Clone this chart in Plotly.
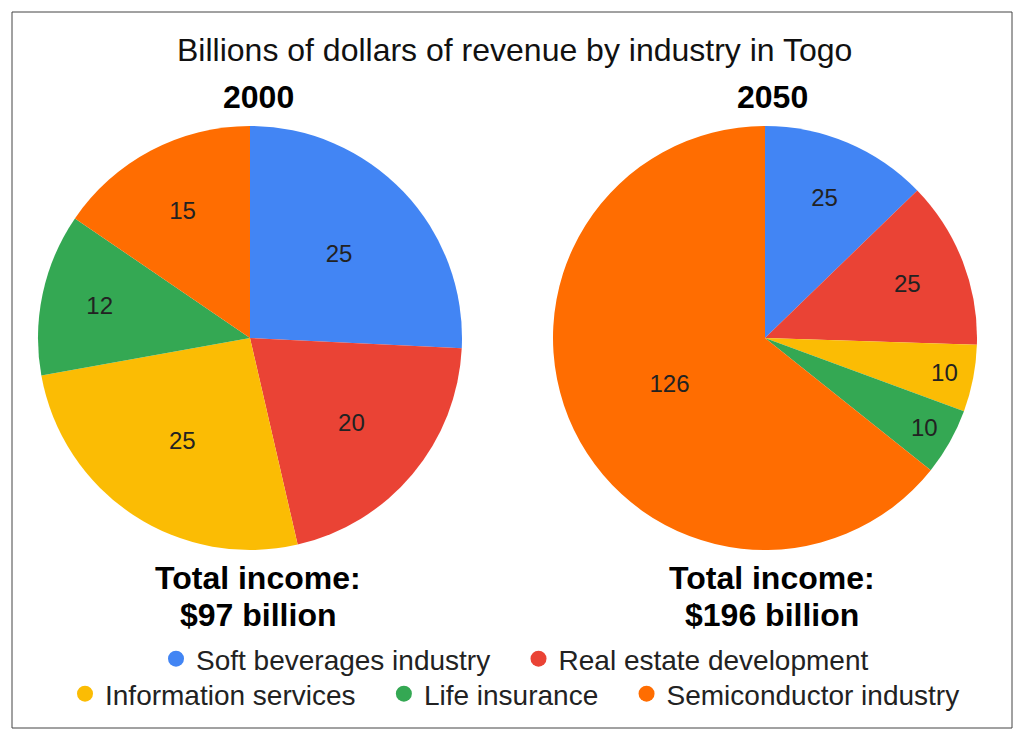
import plotly.graph_objects as go

categories = ["Soft beverages industry", "Real estate development",
              "Information services", "Life insurance", "Semiconductor industry"]
values_2000 = [25, 20, 25, 12, 15]
values_2050 = [25, 25, 10, 10, 126]
colors = ["#4285F4", "#EA4335", "#FBBC04", "#34A853", "#FF6D01"]
title_text = "Billions of dollars of revenue by industry in Togo"
year_labels = ["2000", "2050"]
total_line1 = ["Total income:", "Total income:"]
total_line2 = ["$97 billion", "$196 billion"]

W, H = 1024, 740
FONT = "Liberation Sans, Arial, sans-serif"

fig = go.Figure()

def px_x(v):
    return v / W

def px_y(v):
    return 1 - v / H

pie_domains = [
    dict(x=[px_x(38), px_x(462)], y=[px_y(550), px_y(126)]),
    dict(x=[px_x(553), px_x(977)], y=[px_y(550), px_y(126)]),
]

for vals, dom in zip([values_2000, values_2050], pie_domains):
    fig.add_trace(go.Pie(
        labels=categories, values=vals, sort=False, direction="clockwise",
        rotation=0, domain=dom,
        marker=dict(colors=colors, line=dict(width=0)),
        texttemplate="%{value}", textposition="inside",
        insidetextorientation="horizontal",
        textfont=dict(family=FONT, size=24, color="#222222"),
        showlegend=False, hoverinfo="label+value",
    ))

# legend entries with circle markers (two rows: first 2, last 3)
row_last = {1, 4}
for i, (cat, col) in enumerate(zip(categories, colors)):
    name = cat if i in row_last else cat + "\u00a0" * 3
    fig.add_trace(go.Scatter(
        x=[None], y=[None], mode="markers", name=name,
        marker=dict(color=col, size=16, symbol="circle"),
        legend="legend" if i < 2 else "legend2",
    ))

fig.update_xaxes(visible=False)
fig.update_yaxes(visible=False)

def ann(text, x, y, size, bold=False, color="#000000"):
    return dict(text=("<b>%s</b>" % text) if bold else text,
                x=px_x(x), y=px_y(y), xref="paper", yref="paper",
                xanchor="center", yanchor="middle", showarrow=False,
                font=dict(family=FONT, size=size, color=color))

annotations = [ann(title_text, 514, 50, 32, color="#111111")]
for cx, yl, t1, t2 in zip([258, 772], year_labels, total_line1, total_line2):
    annotations.append(ann(yl, cx, 97, 32, bold=True))
    annotations.append(ann(t1, cx, 578, 32, bold=True))
    annotations.append(ann(t2, cx, 615, 32, bold=True))

legend_common = dict(orientation="h", xanchor="center", yanchor="middle",
                     font=dict(family=FONT, size=28, color="#222222"),
                     bgcolor="rgba(0,0,0,0)", itemsizing="trace")

fig.update_layout(
    width=W, height=H,
    margin=dict(l=0, r=0, t=0, b=0),
    paper_bgcolor="white", plot_bgcolor="white",
    annotations=annotations,
    showlegend=True,
    legend=dict(x=px_x(515), y=px_y(659), **legend_common),
    legend2=dict(x=px_x(515), y=px_y(694), **legend_common),
    shapes=[dict(type="rect", xref="paper", yref="paper",
                 x0=px_x(12), x1=px_x(1012), y0=px_y(728), y1=px_y(12),
                 line=dict(color="#444444", width=1))],
)

fig.write_html("out.html", config={"displayModeBar": False},
               post_script="document.body.style.margin='0';")
